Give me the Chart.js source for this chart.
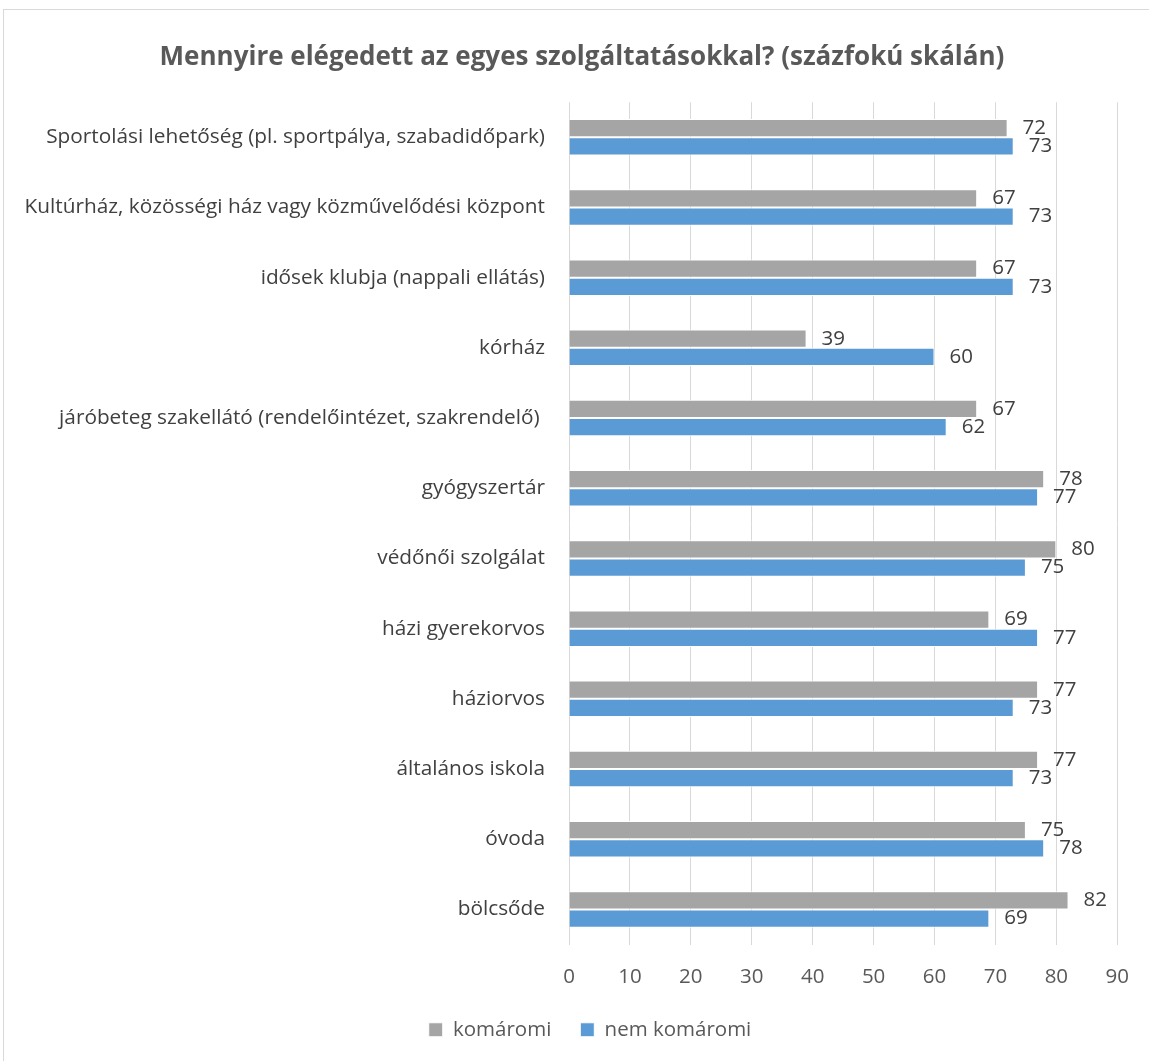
<!DOCTYPE html>
<html>
<head>
<meta charset="utf-8">
<script src="https://cdn.jsdelivr.net/npm/chart.js@4.4.0/dist/chart.umd.min.js"></script>
<style>
  html, body { margin: 0; padding: 0; background: #fff; }
  #frame { position: absolute; left: 3px; top: 9px; width: 1200px; height: 1100px; border: 1px solid #d9d9d9; }
  #wrap { position: absolute; left: 0; top: 0; width: 1149px; height: 1061px; }
</style>
</head>
<body>
<div id="frame"></div>
<div id="wrap"><canvas id="chart" width="1149" height="1061"></canvas></div>
<script>
// categories from top to bottom, as in the picture
const categories = [
  "Sportolási lehetőség (pl. sportpálya, szabadidőpark)",
  "Kultúrház, közösségi ház vagy közművelődési központ",
  "idősek klubja (nappali ellátás)",
  "kórház",
  "járóbeteg szakellátó (rendelőintézet, szakrendelő) ",
  "gyógyszertár",
  "védőnői szolgálat",
  "házi gyerekorvos",
  "háziorvos",
  "általános iskola",
  "óvoda",
  "bölcsőde"
];
const komaromi    = [72, 67, 67, 39, 67, 78, 80, 69, 77, 77, 75, 82];
const nemKomaromi = [73, 73, 73, 60, 62, 77, 75, 77, 73, 73, 78, 69];
const xTicks = [0, 10, 20, 30, 40, 50, 60, 70, 80, 90];

const FONT = "'Open Sans', 'Noto Sans', sans-serif";

// value labels to the right of each bar
const valueLabels = {
  id: 'valueLabels',
  afterDatasetsDraw(chart) {
    const ctx = chart.ctx;
    ctx.save();
    ctx.font = "20.5px " + FONT;
    ctx.fillStyle = "#404040";
    ctx.textBaseline = "middle";
    ctx.textAlign = "left";
    chart.data.datasets.forEach((ds, i) => {
      chart.getDatasetMeta(i).data.forEach((bar, j) => {
        ctx.fillText(ds.data[j], bar.x + 15, bar.y);
      });
    });
    ctx.restore();
  }
};

// title and legend sit a bit right of the canvas centre in the original
const nudge = {
  id: 'nudge',
  afterLayout(chart) {
    chart.titleBlock.left += 17; chart.titleBlock.right += 17;
    chart.legend.left += 25; chart.legend.right += 25;
  }
};

new Chart(document.getElementById("chart"), {
  type: "bar",
  data: {
    labels: categories,
    datasets: [
      { label: "komáromi", data: komaromi, backgroundColor: "#a5a5a5", borderColor: "#ffffff", borderWidth: 1 },
      { label: "nem komáromi", data: nemKomaromi, backgroundColor: "#5b9bd5", borderColor: "#ffffff", borderWidth: 1 }
    ]
  },
  plugins: [valueLabels, nudge],
  options: {
    indexAxis: "y",
    responsive: false,
    animation: false,
    layout: { padding: { left: 10, right: 29, top: 0, bottom: 11 } },
    datasets: { bar: { categoryPercentage: 0.52, barPercentage: 1 } },
    scales: {
      x: {
        min: 0, max: 90,
        afterBuildTicks: s => { s.ticks = xTicks.map(v => ({ value: v })); },
        grid: { color: "#d9d9d9", drawTicks: false },
        border: { display: false },
        ticks: { color: "#595959", font: { family: FONT, size: 20.5 }, padding: 20 },
        afterFit: s => { s.height = 46; }
      },
      y: {
        grid: { display: false },
        border: { display: false },
        ticks: { color: "#404040", font: { family: FONT, size: 20.8 }, padding: 16, autoSkip: false },
        afterFit: s => { s.width = 559; }
      }
    },
    plugins: {
      title: {
        display: true,
        text: "Mennyire elégedett az egyes szolgáltatásokkal? (százfokú skálán)",
        color: "#595959",
        font: { family: FONT, size: 26, weight: "bold" },
        padding: { top: 42, bottom: 29 }
      },
      legend: {
        position: "bottom",
        labels: { color: "#595959", font: { family: FONT, size: 20.5 }, boxWidth: 14, boxHeight: 14, padding: 29 }
      },
      tooltip: { enabled: false }
    }
  }
});
</script>
</body>
</html>
